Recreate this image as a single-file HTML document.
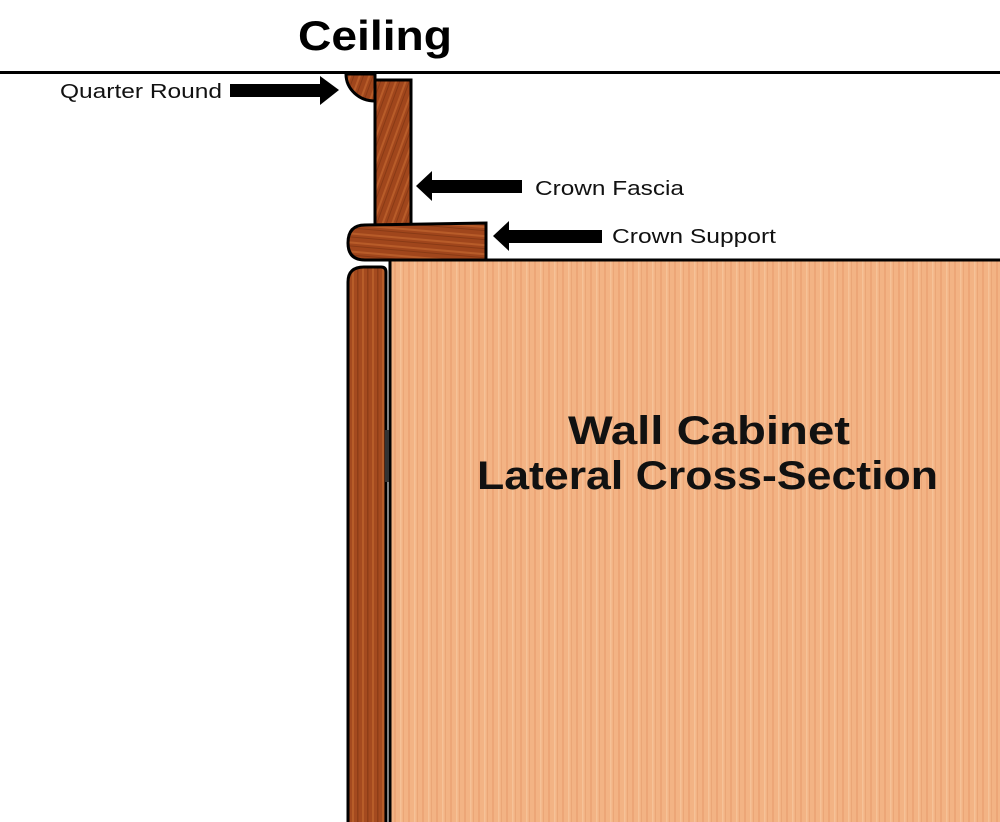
<!DOCTYPE html>
<html><head><style>
html,body{margin:0;padding:0;background:#fff;width:1000px;height:822px;overflow:hidden}
svg{display:block}
text{font-family:"Liberation Sans",sans-serif}
</style></head><body>
<svg width="1000" height="822" viewBox="0 0 1000 822" xmlns="http://www.w3.org/2000/svg">
<defs>
<pattern id="cab" width="14" height="822" patternUnits="userSpaceOnUse">
<rect width="14" height="822" fill="#f3b384"/>
<rect x="2" width="2" height="822" fill="#e99d6e" opacity="0.6"/>
<rect x="8" width="1.5" height="822" fill="#f8c9a0" opacity="0.7"/>
<rect x="11" width="1" height="822" fill="#e39a6a" opacity="0.5"/>
</pattern>
<pattern id="darkv" width="10" height="822" patternUnits="userSpaceOnUse">
<rect width="10" height="822" fill="#a44a1f"/>
<rect x="2" width="2" height="822" fill="#c0652e" opacity="0.7"/>
<rect x="7" width="1.5" height="822" fill="#7e3412" opacity="0.6"/>
</pattern>
<pattern id="darkd" width="9" height="9" patternUnits="userSpaceOnUse" patternTransform="rotate(20)">
<rect width="9" height="9" fill="#a0461c"/>
<rect x="3" width="2" height="9" fill="#c2662f" opacity="0.7"/>
<rect x="7" width="1" height="9" fill="#7a3210" opacity="0.6"/>
</pattern>
<pattern id="darkh" width="9" height="9" patternUnits="userSpaceOnUse" patternTransform="rotate(95)">
<rect width="9" height="9" fill="#a0461c"/>
<rect x="3" width="2" height="9" fill="#c2662f" opacity="0.7"/>
<rect x="7" width="1" height="9" fill="#7a3210" opacity="0.6"/>
</pattern>
</defs>

<text x="298" y="50" font-size="42" font-weight="bold" fill="#000" textLength="154" lengthAdjust="spacingAndGlyphs">Ceiling</text>
<rect x="0" y="71" width="1000" height="3" fill="#000"/>

<!-- cabinet -->
<rect x="390" y="260" width="612" height="566" fill="url(#cab)" stroke="#000" stroke-width="3"/>
<text x="568" y="444" font-size="40" font-weight="bold" fill="#111" textLength="282" lengthAdjust="spacingAndGlyphs">Wall Cabinet</text>
<text x="477" y="489" font-size="40" font-weight="bold" fill="#111" textLength="461" lengthAdjust="spacingAndGlyphs">Lateral Cross-Section</text>

<!-- door -->
<path d="M348 826 L348 282 Q348 267 364 267 L381 267 Q386 267 386 272 L386 826 Z" fill="url(#darkv)" stroke="#000" stroke-width="3"/>
<rect x="385" y="430" width="4" height="52" fill="#333"/>

<!-- quarter round -->
<path d="M346 74 A29 27 0 0 0 375 101 L375 74 Z" fill="url(#darkd)" stroke="#000" stroke-width="3"/>
<!-- fascia -->
<rect x="375" y="80" width="36" height="145" fill="url(#darkd)" stroke="#000" stroke-width="3"/>
<!-- crown support -->
<path d="M365 225 L486 223 L486 260 L365 260 Q348 260 348 243 Q348 225 365 225 Z" fill="url(#darkh)" stroke="#000" stroke-width="3"/>

<!-- labels & arrows -->
<text x="60" y="98" font-size="20" fill="#111" textLength="162" lengthAdjust="spacingAndGlyphs">Quarter Round</text>
<rect x="230" y="84" width="92" height="13" fill="#000"/>
<polygon points="320,76 339,90 320,105" fill="#000"/>

<polygon points="416,186 432,171 432,201" fill="#000"/>
<rect x="430" y="180" width="92" height="13" fill="#000"/>
<text x="535" y="195" font-size="20" fill="#111" textLength="149" lengthAdjust="spacingAndGlyphs">Crown Fascia</text>

<polygon points="493,236 509,221 509,251" fill="#000"/>
<rect x="507" y="230" width="95" height="13" fill="#000"/>
<text x="612" y="243" font-size="20" fill="#111" textLength="164" lengthAdjust="spacingAndGlyphs">Crown Support</text>
</svg>
</body></html>
